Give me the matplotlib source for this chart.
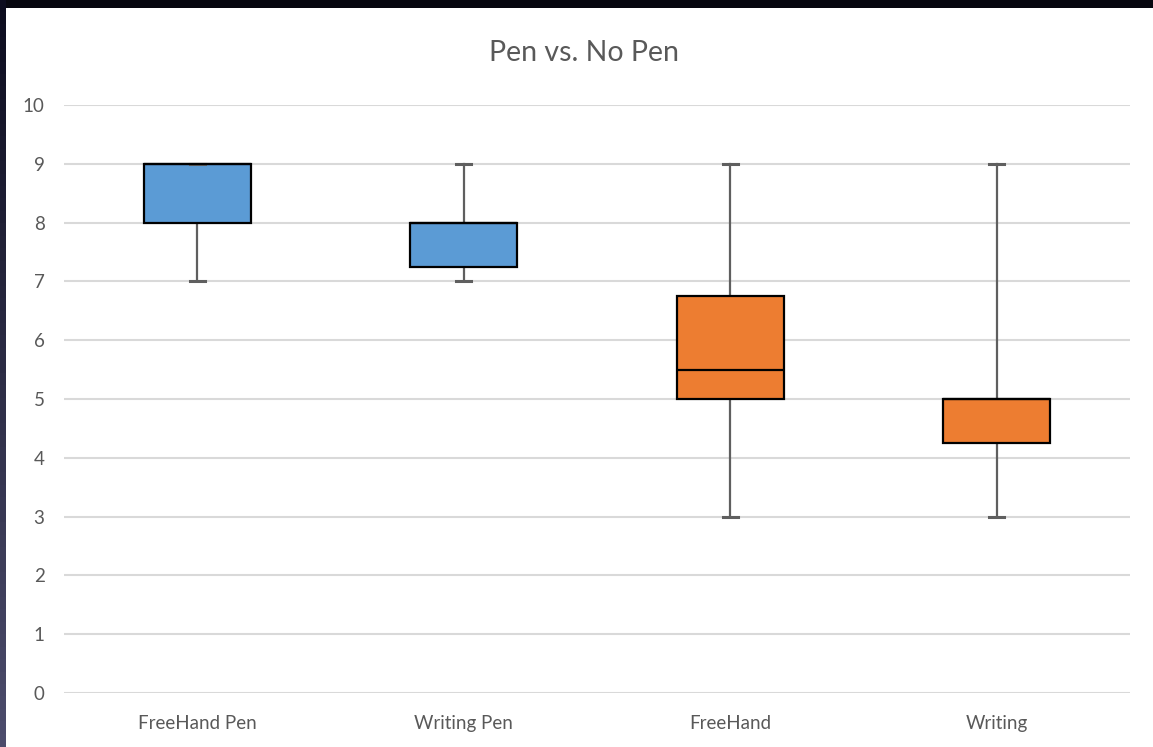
import matplotlib
matplotlib.use("Agg")
import matplotlib.pyplot as plt
from matplotlib.patches import Rectangle
import numpy as np

# box statistics per group
groups = ["FreeHand Pen", "Writing Pen", "FreeHand", "Writing"]
mins    = [7, 7, 3, 3]
q1s     = [8, 7.25, 5, 4.25]
medians = [9, 8, 5.5, 5]
q3s     = [9, 8, 6.75, 5]
maxs    = [9, 9, 9, 9]
colors  = ["#5B9BD5", "#5B9BD5", "#ED7D31", "#ED7D31"]

plt.rcParams['font.family'] = ['Lato', 'DejaVu Sans']

fig = plt.figure(figsize=(11.53, 7.47), dpi=100)
fig.patch.set_facecolor("white")

# dark screen frame around the chart
fig.add_artist(Rectangle((0, 1 - 8 / 747), 1, 8 / 747, transform=fig.transFigure,
                         facecolor="#07070f", edgecolor="none", zorder=0))
left_w = 6 / 1153
n = 60
for i in range(n):
    t = i / (n - 1)
    c = np.array([0x0c, 0x0c, 0x1e]) * (1 - t) + np.array([0x4c, 0x4c, 0x6c]) * t
    fig.add_artist(Rectangle((0, 1 - (i + 1) / n), left_w, 1 / n + 0.001,
                             transform=fig.transFigure, facecolor=c / 255,
                             edgecolor="none", zorder=0))

ax = fig.add_axes([64 / 1153, 1 - 693 / 747, (1130 - 64) / 1153, (693 - 105) / 747])

stats = []
for g, lo, a, m, b, hi in zip(groups, mins, q1s, medians, q3s, maxs):
    stats.append(dict(label=g, whislo=lo, q1=a, med=m, q3=b, whishi=hi, fliers=[]))

pos = np.arange(len(groups))
bp = ax.bxp(stats, positions=pos, widths=0.4, patch_artist=True, showfliers=False,
            boxprops=dict(edgecolor="black", linewidth=1.6),
            medianprops=dict(color="black", linewidth=1.6),
            whiskerprops=dict(color="#5f5f5f", linewidth=1.6),
            capprops=dict(color="#5f5f5f", linewidth=2.2),
            capwidths=0.055)
for patch, c in zip(bp["boxes"], colors):
    patch.set_facecolor(c)
    patch.set_zorder(3)
for w in bp["whiskers"]:
    w.set_zorder(2)
for cap in bp["caps"]:
    cap.set_zorder(4)
for med in bp["medians"]:
    med.set_zorder(4)

ax.set_xlim(-0.5, 3.5)
ax.set_ylim(0, 10)
ax.set_yticks(range(0, 11))
ax.set_xticks(pos)
ax.set_xticklabels(groups)
ax.yaxis.grid(True, color="#d9d9d9", linewidth=1.5, zorder=0)
ax.set_axisbelow(True)
for s in ax.spines.values():
    s.set_visible(False)
ax.tick_params(axis="both", length=0, labelsize=13.5, labelcolor="#595959")
ax.tick_params(axis="y", pad=14)
ax.tick_params(axis="x", pad=15.5)

fig.text(584 / 1153, 1 - 53 / 747, "Pen vs. No Pen", ha="center",
         va="center", fontsize=20.5, color="#595959")

fig.savefig("out.png", dpi=100)
